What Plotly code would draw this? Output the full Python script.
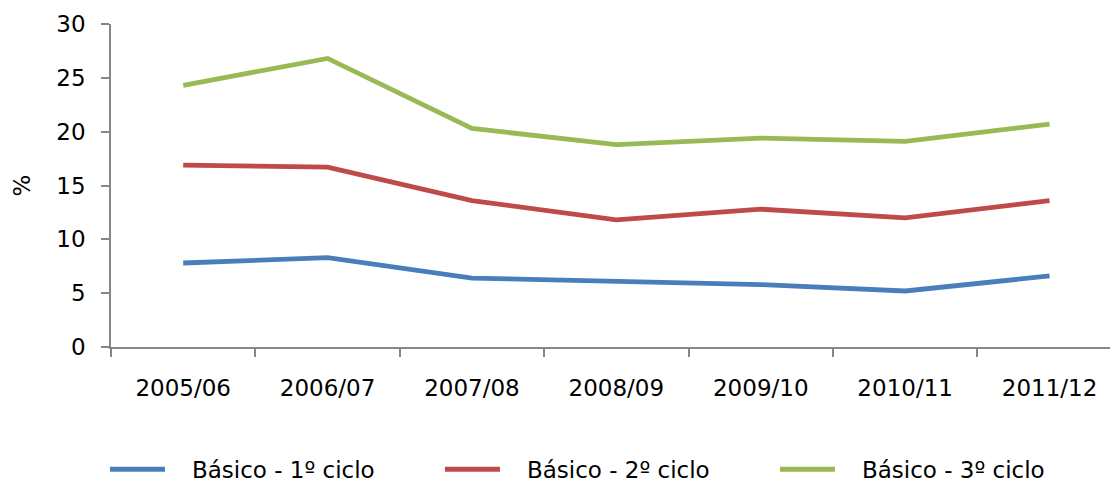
import plotly.graph_objects as go

categories = ["2005/06", "2006/07", "2007/08", "2008/09", "2009/10", "2010/11", "2011/12"]
ciclo1 = [7.8, 8.3, 6.4, 6.1, 5.8, 5.2, 6.6]
ciclo2 = [16.9, 16.7, 13.6, 11.8, 12.8, 12.0, 13.6]
ciclo3 = [24.3, 26.8, 20.3, 18.8, 19.4, 19.1, 20.7]
series_names = ["Básico - 1º ciclo", "Básico - 2º ciclo", "Básico - 3º ciclo"]
colors = ["#4A7EBB", "#BE4B48", "#98B954"]
y_ticks = [0, 5, 10, 15, 20, 25, 30]

FONT = "DejaVu Sans"
PAD = "\u00a0\u00a0\u00a0"  # gap between legend line and label

fig = go.Figure()
for name, vals, col in zip(series_names, [ciclo1, ciclo2, ciclo3], colors):
    fig.add_trace(go.Scatter(
        x=categories, y=vals, name=PAD + name, mode="lines",
        line=dict(color=col, width=4.8),
    ))

# the plot area runs past the right edge of the window, as in the original;
# the figure is a bit larger than the window so the legend never pushes margins
fig.update_layout(
    width=1130, height=530,
    margin=dict(l=111, r=10, t=24, b=183),
    paper_bgcolor="white", plot_bgcolor="white",
    font=dict(family=FONT, size=23, color="black"),
    showlegend=True,
    legend=dict(
        orientation="h", x=-0.006, xanchor="left", y=-0.312, yanchor="top",
        font=dict(family=FONT, size=23, color="black"),
        itemwidth=55, entrywidth=265, entrywidthmode="pixels",
        bgcolor="rgba(0,0,0,0)",
    ),
)

fig.update_xaxes(
    type="category", range=[-0.5, 6.488], automargin=False,
    showgrid=False, zeroline=False,
    showline=True, linecolor="#868686", linewidth=1.5,
    ticks="outside", tickson="boundaries", ticklen=8, tickcolor="#868686", tickwidth=1.5,
    ticklabelstandoff=20,
    tickfont=dict(family=FONT, size=23, color="black"),
)
fig.update_yaxes(
    range=[0, 30], tickvals=y_ticks, automargin=False,
    showgrid=False, zeroline=False,
    showline=True, linecolor="#868686", linewidth=1.5,
    ticks="outside", ticklen=8, tickcolor="#868686", tickwidth=1.5,
    ticklabelstandoff=11,
    tickfont=dict(family=FONT, size=23, color="black"),
    title=dict(text="%", font=dict(family=FONT, size=23, color="black"), standoff=19),
)

fig.write_html(
    "out.html",
    config={"displayModeBar": False},
    post_script="document.body.style.margin='0';document.body.style.overflow='hidden';",
)
